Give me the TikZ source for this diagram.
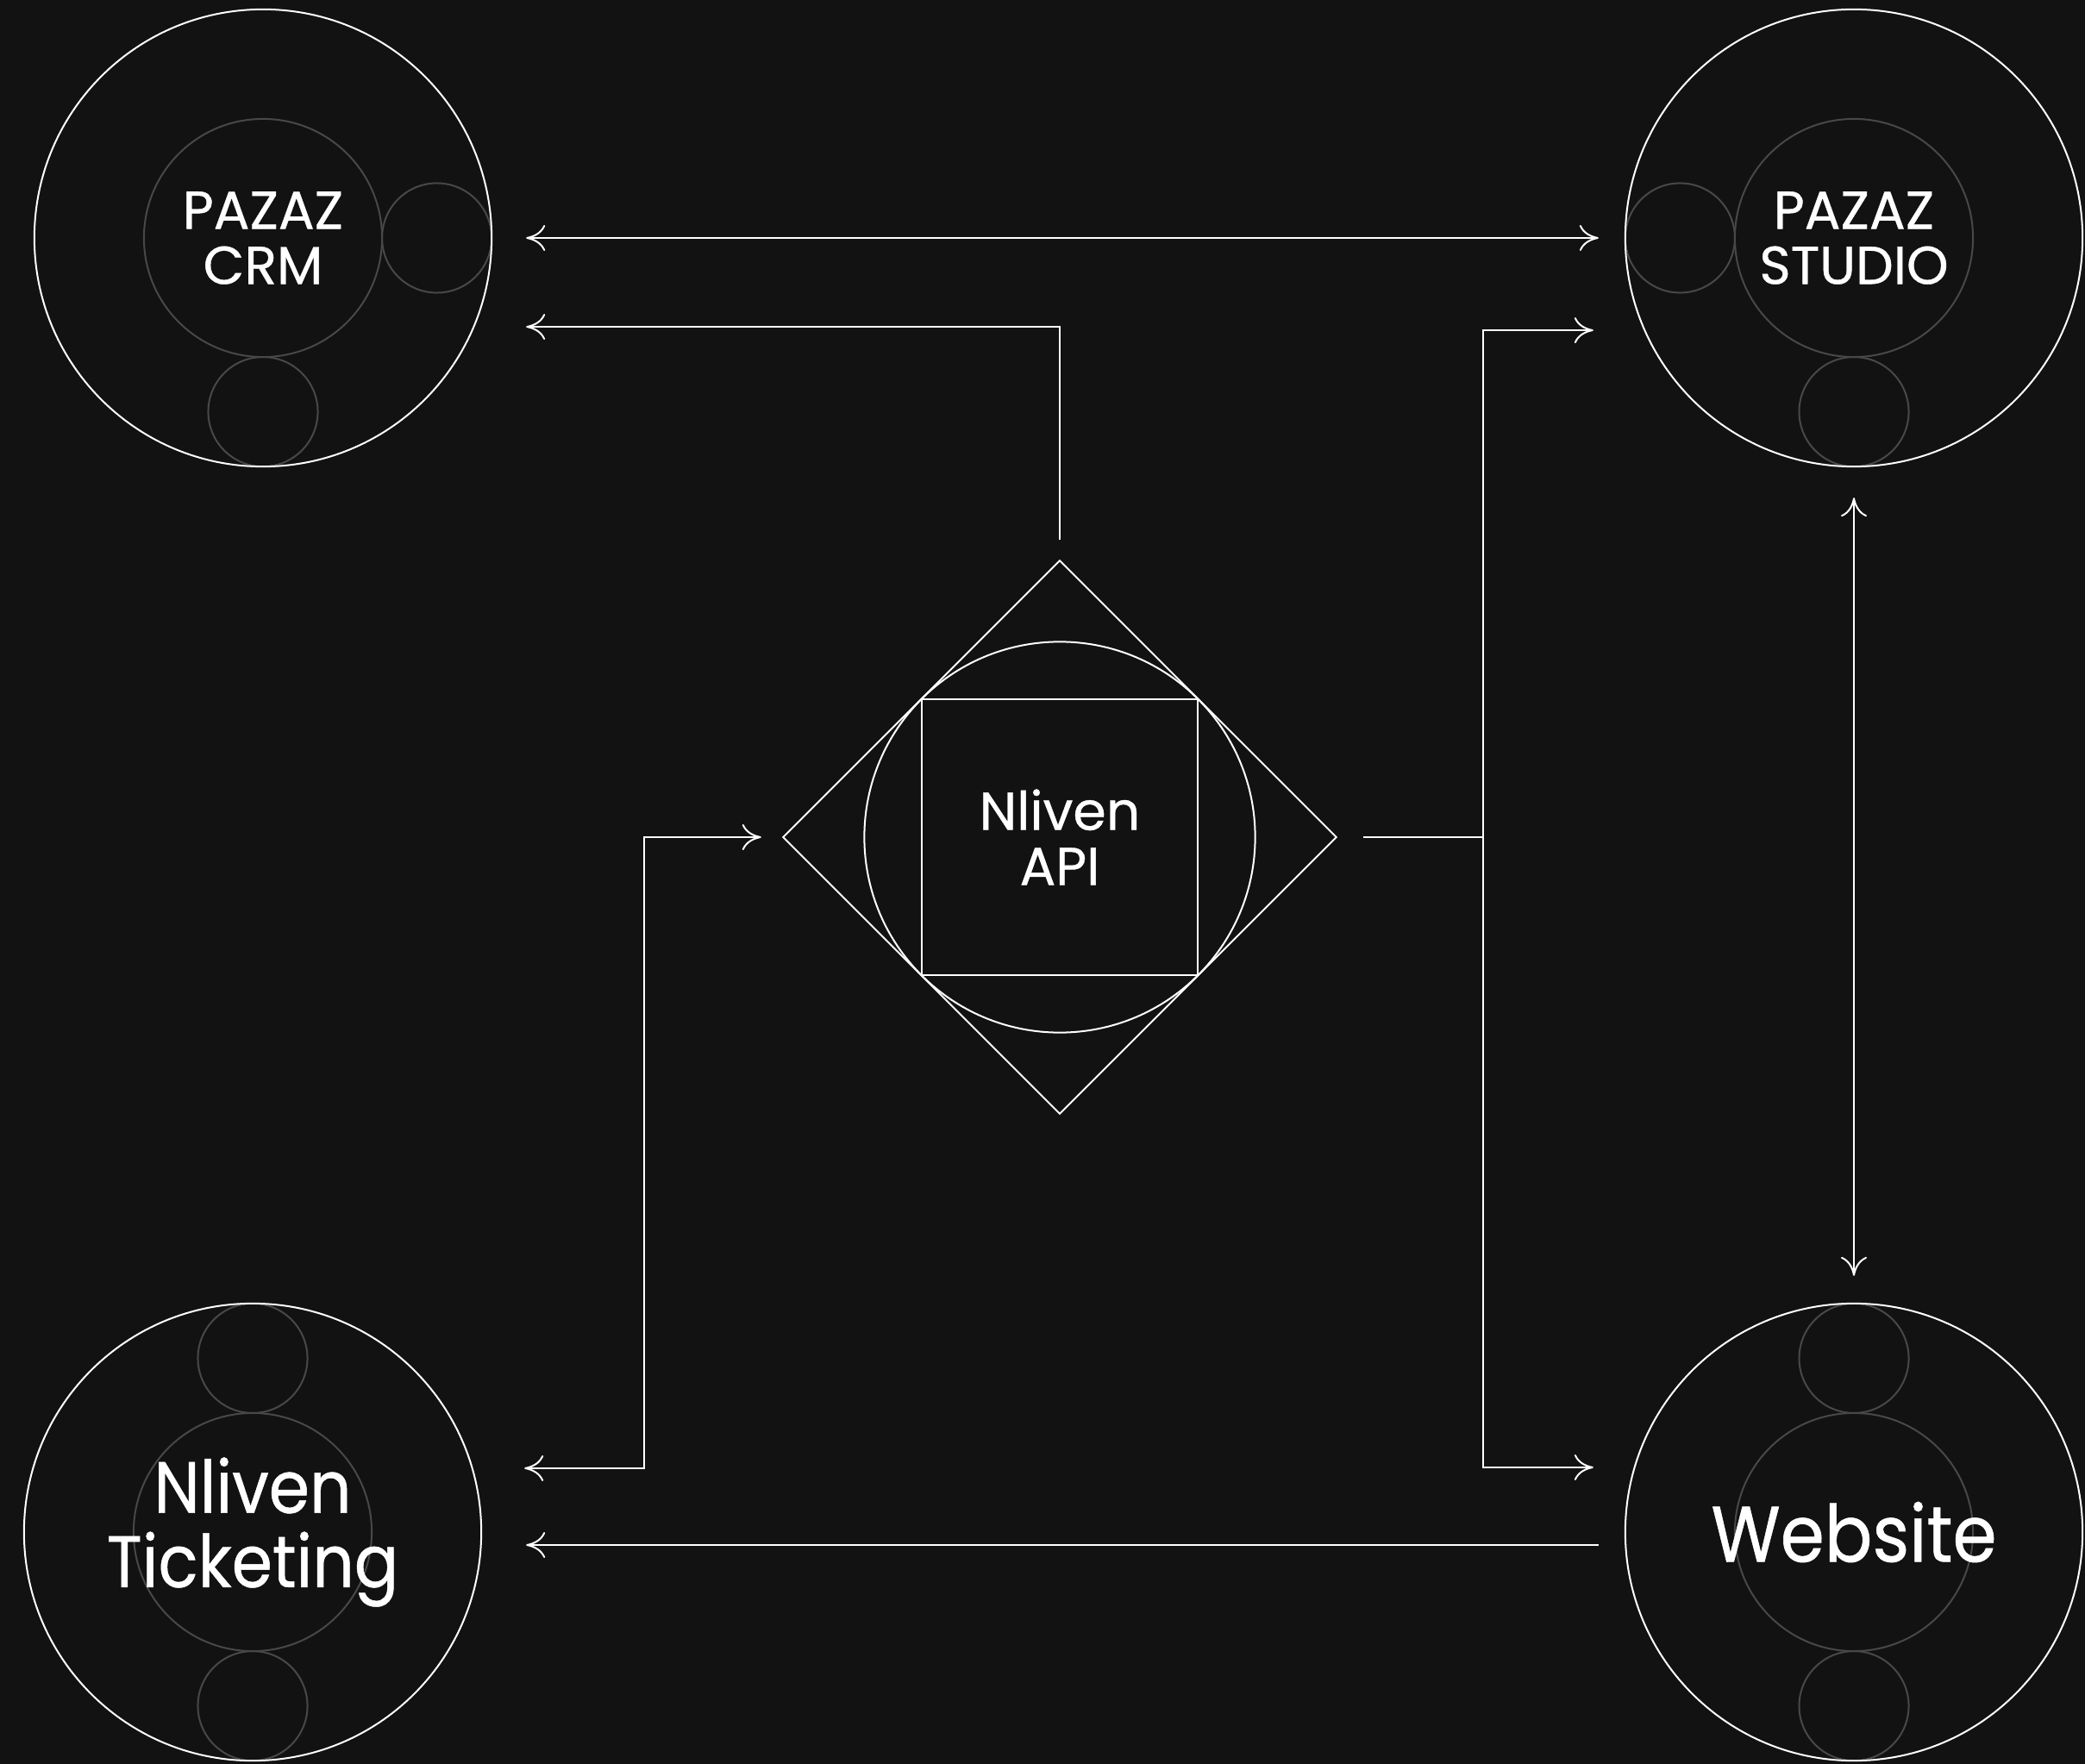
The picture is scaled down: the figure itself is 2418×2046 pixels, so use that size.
\documentclass[tikz,border=0pt]{standalone}
\usepackage{fontspec}
\setmainfont{Poppins}[FakeBold=0.6, FakeStretch=0.9]
\newfontfamily\widefont{Poppins}[FakeBold=0.6]
\usetikzlibrary{arrows.meta, shapes.geometric, backgrounds}
\definecolor{bg}{HTML}{121212}
\definecolor{ringgrey}{HTML}{484848}

\begin{document}
\begin{tikzpicture}[x=0.01cm, y=-0.01cm,
    hub/.style = {draw=white, circle, line width=0.02cm, minimum size=5.3cm, text=white, align=center},
    ring/.style = {draw=ringgrey, line width=0.02cm},
    shell/.style = {draw=white, line width=0.02cm},
    link/.style = {draw=white, line width=0.02cm, >={Computer Modern Rightarrow[length=0.22cm, width=0.3cm]}},
    smalltext/.style = {font=\widefont\fontsize{17.6}{18.2}\selectfont},
    bigtext/.style = {font=\fontsize{24}{24.5}\selectfont},
    hugetext/.style = {font=\fontsize{26}{27}\selectfont}]
        \useasboundingbox (0,0) rectangle (2418,2046);
        \node[hub, smalltext] (crm) at (305,276) {PAZAZ\\CRM};
        \node[hub, smalltext] (studio) at (2150,276) {PAZAZ\\STUDIO};
        \node[hub, bigtext] (ticket) at (293,1777) {Nliven\\Ticketing};
        \node[hub, hugetext] (web) at (2150,1777) {Website};
        \node[diamond, shell, minimum width=6.42cm, minimum height=6.42cm, text=white, align=center, smalltext] (api) at (1229,971) {Nliven\\API};
        \draw[shell] (api.center) circle (2.265cm);
        \draw[shell] ([shift={(-1.6cm,-1.6cm)}]api.center) rectangle ([shift={(1.6cm,1.6cm)}]api.center);
        % grey rings behind the labels
        \begin{scope}[on background layer]
            \fill[bg] (0,0) rectangle (2418,2046);
            \foreach \n in {crm, studio, ticket, web}
                \draw[ring] (\n.center) circle (1.38cm);
            \draw[ring] ([xshift=2.015cm]crm.center) circle (0.635cm);
            \draw[ring] ([yshift=-2.015cm]crm.center) circle (0.635cm);
            \draw[ring] ([xshift=-2.015cm]studio.center) circle (0.635cm);
            \draw[ring] ([yshift=-2.015cm]studio.center) circle (0.635cm);
            \draw[ring] ([yshift=2.015cm]ticket.center) circle (0.635cm);
            \draw[ring] ([yshift=-2.015cm]ticket.center) circle (0.635cm);
            \draw[ring] ([yshift=2.015cm]web.center) circle (0.635cm);
            \draw[ring] ([yshift=-2.015cm]web.center) circle (0.635cm);
        \end{scope}
        \coordinate (split) at (1720,971);
        \coordinate (merge) at (747,971);
        \draw[link, <->] ([xshift=0.39cm]crm.east) -- ([xshift=-0.3cm]studio.west);
        \draw[link, ->] ([yshift=0.23cm]api.north) |- ([xshift=0.39cm, yshift=-1.03cm]crm.east);
        \draw[link] ([xshift=0.3cm]api.east) -- (split);
        \draw[link, ->] (split) |- ([xshift=-0.36cm, yshift=-1.07cm]studio.west);
        \draw[link, ->] (split) |- ([xshift=-0.36cm, yshift=0.75cm]web.west);
        \draw[link, <->] ([yshift=-0.35cm]studio.south) -- ([yshift=0.31cm]web.north);
        \draw[link, <->] ([xshift=0.49cm, yshift=0.74cm]ticket.east) -| (merge) -- ([xshift=-0.24cm]api.west);
        \draw[link, ->] ([xshift=-0.3cm, yshift=-0.15cm]web.west) -- ([xshift=0.51cm, yshift=-0.15cm]ticket.east);
\end{tikzpicture}
\end{document}
